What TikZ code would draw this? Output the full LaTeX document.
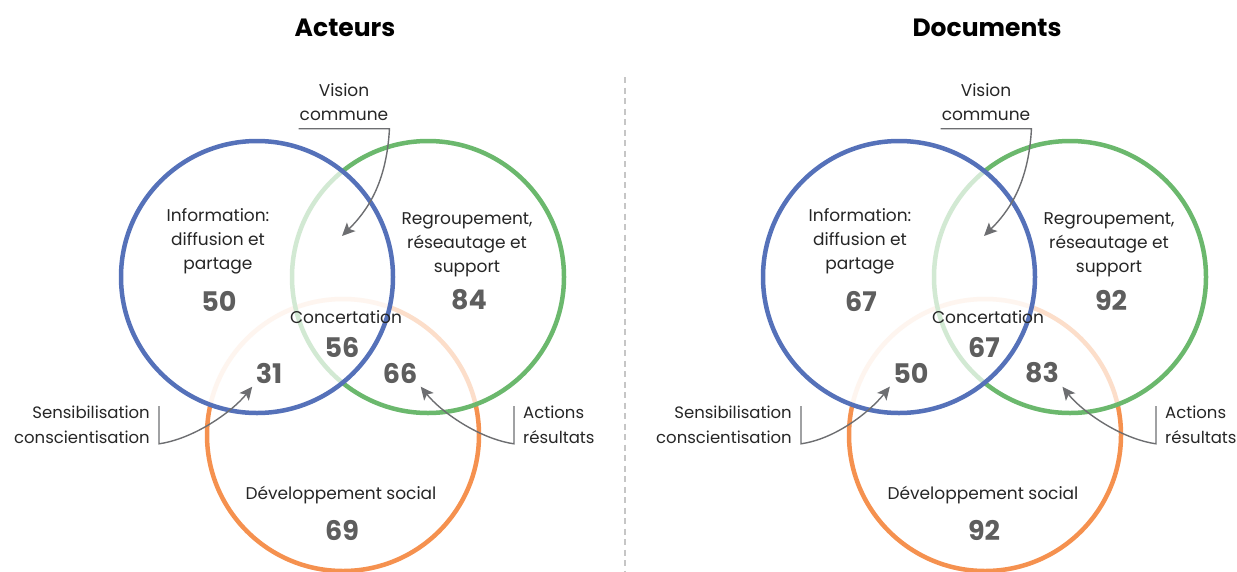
\documentclass[tikz,border=0pt]{standalone}
\usepackage{fontspec}
\setmainfont{Poppins}
\usetikzlibrary{arrows.meta}

\definecolor{ringblue}{HTML}{5571B9}
\definecolor{ringgreen}{HTML}{6BB86D}
\definecolor{ringorange}{HTML}{F5914F}
\definecolor{numgray}{HTML}{5E5E5E}
\definecolor{textgray}{HTML}{262626}
\definecolor{pointergray}{HTML}{6D6E71}

\tikzset{
  ring/.style={line width=4.5pt},
  areatext/.style={font=\fontsize{17}{24}\selectfont, text=textgray, align=center},
  calltext/.style={font=\fontsize{16.5}{24.5}\selectfont, text=textgray},
  number/.style={font=\bfseries\fontsize{27}{27}\selectfont, text=numgray},
  heading/.style={font=\bfseries\fontsize{25}{25}\selectfont, text=black},
  pointer/.style={pointergray, line width=1.4pt, -{Stealth[length=13pt,width=12pt,inset=3pt]}},
}

\begin{document}
\begin{tikzpicture}[x=1pt,y=-1pt]
\useasboundingbox (0,0) rectangle (1237,571);
\clip (0,0) rectangle (1237,571);
\draw[gray!45, line width=1.8pt, dash pattern=on 6pt off 4.5pt] (625,77) -- (625,571);

\foreach \dx/\ttl/\info/\regr/\conc/\sens/\act/\dev in {0/Acteurs/50/84/56/31/66/69, 642/Documents/67/92/67/50/83/92}{
\begin{scope}[xshift=\dx]
  % three rings, the later ones fading what lies under them
  \coordinate (B) at (257,277);
  \coordinate (G) at (428,277);
  \coordinate (O) at (343,435);
  \draw[ringorange, ring] (O) circle[radius=136pt];
  \fill[white, fill opacity=.7] (B) circle[radius=136pt] (G) circle[radius=136pt];
  \draw[ringgreen, ring] (G) circle[radius=136pt];
  \fill[white, fill opacity=.7] (B) circle[radius=136pt];
  \draw[ringblue, ring] (B) circle[radius=136pt];

  \node[heading] (title) at (345,28) {\ttl};

  % areas
  \node[areatext] (info) at (218,241) {Information:\\diffusion et\\partage};
  \node[number] (infonum) at (219,301) {\info};
  \node[areatext] (regr) at (467,245) {Regroupement,\\réseautage et\\support};
  \node[number] (regrnum) at (469,300) {\regr};
  \node[areatext] (conc) at (346,317) {Concertation};
  \node[number] (concnum) at (342,347) {\conc};
  \node[number] (sensnum) at (269,373) {\sens};
  \node[number] (actnum) at (400,373) {\act};
  \node[areatext] (dev) at (341,495) {Développement social};
  \node[number] (devnum) at (342,530) {\dev};

  % call-outs
  \node[areatext, inner xsep=1pt, inner ysep=8pt] (vision) at (344,102) {Vision\\commune};
  \coordinate (visiontip) at (342,236);
  \node[calltext, align=right, anchor=east, inner sep=0pt, inner xsep=9pt] (sensib) at (159,425) {Sensibilisation\\conscientisation};
  \node[calltext, align=left, anchor=west, inner sep=0pt, inner xsep=9pt] (actions) at (514,425) {Actions\\résultats};

  \draw[pointer] (vision.south west) -- (vision.south east) .. controls +(-3,55) and +(25,-25) .. (visiontip);
  \draw[pointer] (sensib.north east) -- (sensib.south east) .. controls +(35,-5) and +(-20,25) .. (sensnum.south west);
  \draw[pointer] (actions.north west) -- (actions.south west) .. controls +(-35,-5) and +(20,25) .. (actnum.south east);
\end{scope}
}
\end{tikzpicture}
\end{document}
